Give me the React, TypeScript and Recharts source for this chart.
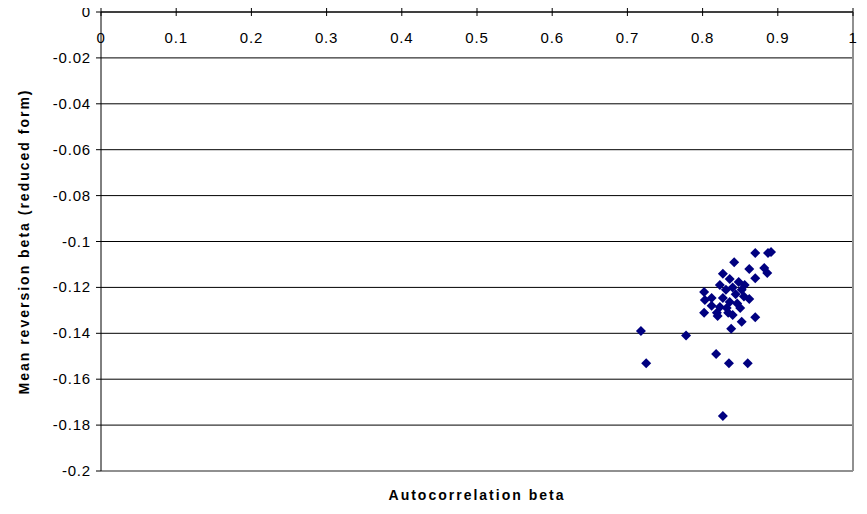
import React from "react"
import {
  ScatterChart,
  Scatter,
  XAxis,
  YAxis,
  CartesianGrid,
  ReferenceLine,
} from "recharts"

const autocorr = [
  0.718, 0.725, 0.778, 0.818, 0.835, 0.86, 0.827, 0.87, 0.887, 0.891, 0.842,
  0.862, 0.882, 0.886, 0.87, 0.827, 0.836, 0.848, 0.852, 0.84, 0.802, 0.803,
  0.812, 0.827, 0.836, 0.862, 0.846, 0.802, 0.823, 0.819, 0.834, 0.85, 0.87,
  0.82, 0.84, 0.852, 0.838, 0.831, 0.844, 0.856, 0.823, 0.832, 0.812, 0.855,
]

const meanReversion = [
  -0.139, -0.153, -0.141, -0.149, -0.153, -0.153, -0.176, -0.105, -0.105,
  -0.1046, -0.109, -0.112, -0.1115, -0.1137, -0.116, -0.114, -0.1163, -0.1176,
  -0.121, -0.12, -0.122, -0.1255, -0.1246, -0.1246, -0.1264, -0.125, -0.127,
  -0.131, -0.1285, -0.131, -0.131, -0.129, -0.133, -0.1325, -0.132, -0.135,
  -0.138, -0.121, -0.123, -0.119, -0.119, -0.129, -0.128, -0.124,
]

const xTicks = [0, 0.1, 0.2, 0.3, 0.4, 0.5, 0.6, 0.7, 0.8, 0.9, 1]
const yTicks = [0, -0.02, -0.04, -0.06, -0.08, -0.1, -0.12, -0.14, -0.16, -0.18, -0.2]

const points = autocorr.map((x, i) => ({ x, y: meanReversion[i] }))

const FONT = "'Liberation Sans', Arial, sans-serif"
const PLOT_TOP = 12

const Diamond = (props: any) => {
  const { cx, cy } = props
  const r = 5
  return (
    <polygon
      points={`${cx},${cy - r} ${cx + r},${cy} ${cx},${cy + r} ${cx - r},${cy}`}
      fill="#000080"
    />
  )
}

// x labels sit under the top axis line, inside the plot
const TopTick = (props: any) => {
  const { x, payload } = props
  return (
    <g>
      <line x1={x} x2={x} y1={PLOT_TOP - 4} y2={PLOT_TOP + 4} stroke="#000" />
      <text
        x={x}
        y={PLOT_TOP + 31}
        textAnchor="middle"
        fontSize={15}
        fontFamily={FONT}
        fill="#000"
        style={{ letterSpacing: 0.8 }}
      >
        {payload.value}
      </text>
    </g>
  )
}

const LeftTick = (props: any) => {
  const { x, y, payload } = props
  return (
    <text
      x={x}
      y={y}
      dy={5}
      textAnchor="end"
      fontSize={15}
      fontFamily={FONT}
      fill="#000"
      style={{ letterSpacing: 0.8 }}
    >
      {payload.value}
    </text>
  )
}

export default function App() {
  return (
    <div style={{ width: 867, height: 514, margin: -8, background: "#fff" }}>
      <ScatterChart
        width={867}
        height={514}
        margin={{ top: 0, right: 14, left: 0, bottom: 0 }}
      >
        <CartesianGrid
          vertical={false}
          stroke="#000"
          strokeOpacity={1}
          horizontalValues={yTicks}
        />
        <XAxis
          dataKey="x"
          type="number"
          orientation="top"
          domain={[0, 1]}
          ticks={xTicks}
          height={PLOT_TOP}
          tick={<TopTick />}
          tickLine={false}
          stroke="#000"
          interval={0}
        />
        <XAxis
          xAxisId="bottom"
          type="number"
          orientation="bottom"
          domain={[0, 1]}
          height={43}
          tick={false}
          tickLine={false}
          axisLine={false}
          label={{
            value: "Autocorrelation beta",
            position: "insideBottom",
            offset: 14,
            style: {
              fontWeight: "bold",
              fontSize: 14,
              fontFamily: FONT,
              fill: "#000",
              letterSpacing: 2,
            },
          }}
        />
        <YAxis
          dataKey="y"
          type="number"
          domain={[-0.2, 0]}
          ticks={yTicks}
          width={101}
          tickSize={5}
          tickMargin={5}
          interval={0}
          stroke="#000"
          tick={<LeftTick />}
          label={{
            value: "Mean reversion beta (reduced form)",
            angle: -90,
            position: "insideLeft",
            offset: 24,
            style: {
              textAnchor: "middle",
              fontWeight: "bold",
              fontSize: 14,
              fontFamily: FONT,
              fill: "#000",
              letterSpacing: 2,
            },
          }}
        />
        <ReferenceLine y={-0.2} stroke="#909090" strokeWidth={2} />
        <ReferenceLine x={1} stroke="#909090" strokeWidth={2} />
        <Scatter data={points} shape={<Diamond />} isAnimationActive={false} />
      </ScatterChart>
    </div>
  )
}
